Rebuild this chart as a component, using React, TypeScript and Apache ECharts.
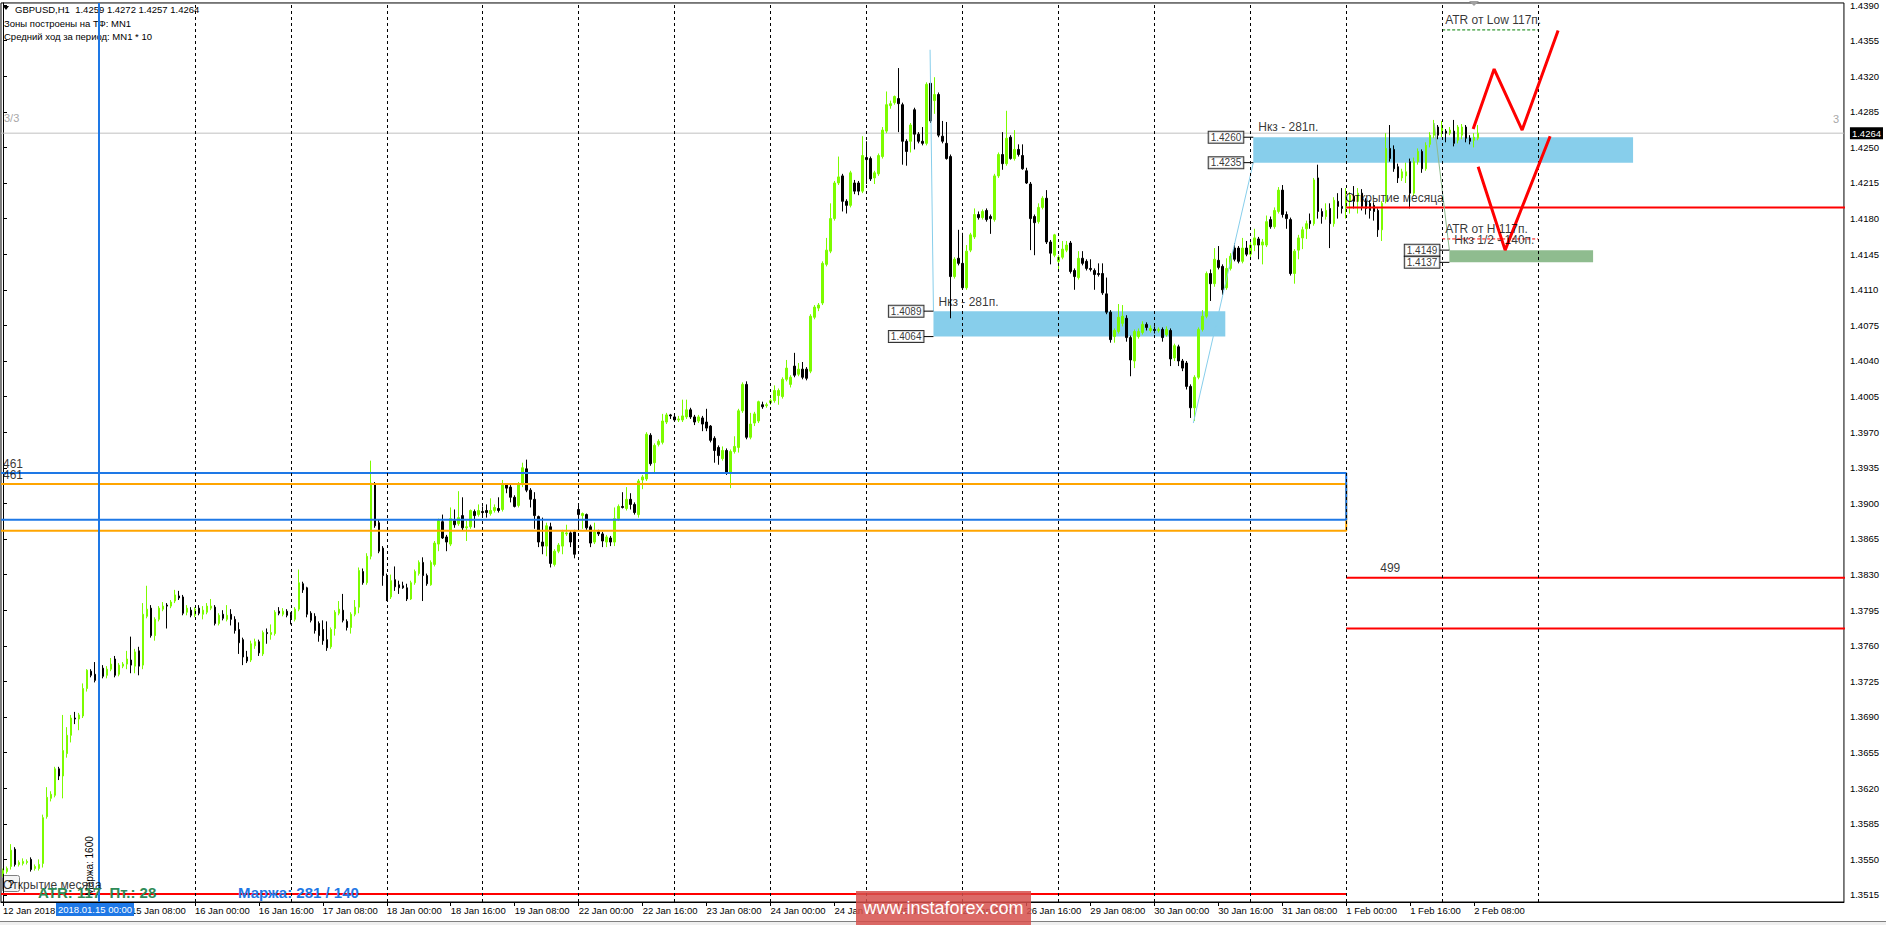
import { useEffect, useRef } from 'react';
import * as echarts from 'echarts';

// Hourly GBPUSD bars: [open, high, low, close]
const jan12 = [
  [1.3536,1.3541,1.3533,1.3539],[1.3538,1.3543,1.3536,1.3541],[1.3543,1.3565,1.3540,1.3559],[1.3560,1.3562,1.3543,1.3545],
  [1.3545,1.3549,1.3543,1.3547],[1.3546,1.3551,1.3544,1.3548],[1.3547,1.3550,1.3545,1.3548],[1.3550,1.3552,1.3538,1.3540],
  [1.3541,1.3545,1.3539,1.3543],[1.3541,1.3550,1.3539,1.3545],[1.3546,1.3594,1.3542,1.3591],[1.3592,1.3621,1.3590,1.3611],
  [1.3610,1.3617,1.3607,1.3614],[1.3613,1.3641,1.3611,1.3639],[1.3639,1.3641,1.3628,1.3632],[1.3632,1.3692,1.3610,1.3657],
  [1.3654,1.3680,1.3650,1.3672],[1.3672,1.3692,1.3665,1.3689],[1.3689,1.3695,1.3683,1.3688],[1.3688,1.3694,1.3677,1.3692],
  [1.3691,1.3723,1.3689,1.3718],[1.3718,1.3737,1.3715,1.3736],[1.3735,1.3737,1.3729,1.3731],[1.3732,1.3744,1.3724,1.3726],
];
const jan15 = [
  [1.3729,1.3741,1.3727,1.3739],[1.3738,1.3741,1.3728,1.3730],[1.3731,1.3740,1.3728,1.3737],[1.3737,1.3748,1.3735,1.3742],
  [1.3747,1.3750,1.3729,1.3731],[1.3732,1.3743,1.3730,1.3741],[1.3740,1.3744,1.3738,1.3742],[1.3742,1.3755,1.3737,1.3747],
  [1.3746,1.3769,1.3733,1.3741],[1.3740,1.3757,1.3733,1.3754],[1.3755,1.3759,1.3731,1.3740],[1.3741,1.3802,1.3737,1.3791],
  [1.3789,1.3819,1.3787,1.3796],[1.3797,1.3800,1.3768,1.3770],[1.3770,1.3788,1.3765,1.3786],[1.3786,1.3799,1.3784,1.3797],
  [1.3796,1.3803,1.3794,1.3799],[1.3800,1.3802,1.3777,1.3799],[1.3799,1.3805,1.3797,1.3803],[1.3804,1.3815,1.3802,1.3810],
  [1.3809,1.3814,1.3805,1.3807],[1.3808,1.3810,1.3790,1.3792],[1.3793,1.3800,1.3790,1.3797],[1.3795,1.3798,1.3788,1.3790],
];
const jan16 = [
  [1.3790,1.3798,1.3788,1.3796],[1.3797,1.3800,1.3790,1.3792],[1.3791,1.3799,1.3786,1.3795],[1.3793,1.3802,1.3791,1.3799],
  [1.3797,1.3806,1.3795,1.3799],[1.3798,1.3800,1.3780,1.3782],[1.3782,1.3792,1.3780,1.3790],[1.3791,1.3795,1.3785,1.3787],
  [1.3786,1.3800,1.3784,1.3790],[1.3791,1.3796,1.3780,1.3786],[1.3786,1.3789,1.3772,1.3775],[1.3776,1.3783,1.3752,1.3763],
  [1.3766,1.3768,1.3741,1.3749],[1.3749,1.3755,1.3743,1.3745],[1.3746,1.3765,1.3744,1.3762],[1.3760,1.3767,1.3757,1.3764],
  [1.3764,1.3766,1.3750,1.3753],[1.3752,1.3775,1.3750,1.3773],[1.3773,1.3777,1.3762,1.3772],[1.3771,1.3781,1.3766,1.3773],
  [1.3772,1.3795,1.3770,1.3793],[1.3794,1.3798,1.3790,1.3792],[1.3791,1.3797,1.3789,1.3794],[1.3794,1.3796,1.3788,1.3790],
];
const jan17 = [
  [1.3791,1.3793,1.3781,1.3787],[1.3786,1.3798,1.3784,1.3796],[1.3796,1.3835,1.3794,1.3822],[1.3821,1.3823,1.3812,1.3815],
  [1.3817,1.3818,1.3788,1.3791],[1.3792,1.3794,1.3783,1.3785],[1.3789,1.3792,1.3772,1.3775],[1.3782,1.3784,1.3764,1.3770],
  [1.3776,1.3785,1.3761,1.3765],[1.3766,1.3784,1.3755,1.3758],[1.3759,1.3778,1.3757,1.3776],[1.3777,1.3795,1.3770,1.3793],
  [1.3792,1.3804,1.3790,1.3796],[1.3795,1.3811,1.3783,1.3785],[1.3784,1.3786,1.3775,1.3778],[1.3778,1.3793,1.3772,1.3791],
  [1.3791,1.3805,1.3789,1.3798],[1.3798,1.3837,1.3792,1.3834],[1.3833,1.3836,1.3820,1.3822],[1.3822,1.3851,1.3820,1.3848],
  [1.3848,1.3942,1.3845,1.3920],[1.3919,1.3921,1.3876,1.3878],[1.3881,1.3884,1.3851,1.3853],[1.3856,1.3858,1.3819,1.3829],
];
const jan18 = [
  [1.3829,1.3831,1.3804,1.3806],[1.3808,1.3830,1.3806,1.3824],[1.3825,1.3838,1.3814,1.3818],[1.3820,1.3824,1.3811,1.3817],
  [1.3819,1.3823,1.3816,1.3817],[1.3817,1.3821,1.3804,1.3806],[1.3806,1.3824,1.3805,1.3822],[1.3822,1.3835,1.3820,1.3833],
  [1.3831,1.3844,1.3829,1.3842],[1.3842,1.3847,1.3804,1.3829],[1.3829,1.3831,1.3819,1.3821],[1.3820,1.3844,1.3819,1.3842],
  [1.3840,1.3863,1.3838,1.3861],[1.3860,1.3885,1.3853,1.3883],[1.3882,1.3889,1.3865,1.3866],[1.3867,1.3869,1.3853,1.3862],
  [1.3860,1.3896,1.3858,1.3885],[1.3883,1.3894,1.3876,1.3879],[1.3880,1.3912,1.3878,1.3886],[1.3888,1.3906,1.3873,1.3876],
  [1.3876,1.3883,1.3863,1.3877],[1.3877,1.3894,1.3875,1.3893],[1.3892,1.3894,1.3876,1.3888],[1.3889,1.3899,1.3887,1.3893],
];
const jan19 = [
  [1.3892,1.3897,1.3886,1.3891],[1.3893,1.3899,1.3886,1.3891],[1.3890,1.3905,1.3888,1.3893],[1.3893,1.3899,1.3891,1.3896],
  [1.3895,1.3906,1.3891,1.3893],[1.3894,1.3923,1.3892,1.3919],[1.3918,1.3920,1.3910,1.3915],[1.3916,1.3918,1.3901,1.3906],
  [1.3906,1.3908,1.3896,1.3897],[1.3898,1.3921,1.3896,1.3919],[1.3919,1.3940,1.3916,1.3935],[1.3934,1.3943,1.3911,1.3913],
  [1.3913,1.3915,1.3896,1.3904],[1.3904,1.3911,1.3875,1.3888],[1.3887,1.3888,1.3857,1.3862],[1.3862,1.3886,1.3850,1.3858],
  [1.3858,1.3881,1.3848,1.3878],[1.3877,1.3881,1.3837,1.3841],[1.3840,1.3855,1.3838,1.3853],[1.3853,1.3861,1.3851,1.3859],
  [1.3858,1.3874,1.3850,1.3872],[1.3870,1.3879,1.3868,1.3871],[1.3871,1.3873,1.3857,1.3862],[1.3872,1.3874,1.3846,1.3850],
];
const jan22 = [
  [1.3894,1.3898,1.3876,1.3889],[1.3888,1.3891,1.3875,1.3890],[1.3889,1.3890,1.3874,1.3876],[1.3877,1.3879,1.3857,1.3861],
  [1.3862,1.3881,1.3860,1.3872],[1.3872,1.3874,1.3868,1.3870],[1.3870,1.3872,1.3857,1.3863],[1.3862,1.3869,1.3857,1.3867],
  [1.3866,1.3868,1.3858,1.3862],[1.3862,1.3896,1.3858,1.3885],[1.3885,1.3899,1.3883,1.3897],[1.3897,1.3911,1.3895,1.3896],
  [1.3895,1.3916,1.3893,1.3904],[1.3904,1.3910,1.3894,1.3899],[1.3899,1.3901,1.3889,1.3891],[1.3889,1.3924,1.3886,1.3922],
  [1.3923,1.3928,1.3914,1.3926],[1.3924,1.3970,1.3922,1.3968],[1.3967,1.3969,1.3937,1.3939],[1.3940,1.3959,1.3929,1.3957],
  [1.3958,1.3963,1.3956,1.3961],[1.3960,1.3988,1.3958,1.3981],[1.3980,1.3989,1.3978,1.3987],[1.3987,1.3988,1.3983,1.3986],
];
const jan23 = [
  [1.3985,1.3987,1.3980,1.3982],[1.3982,1.3986,1.3980,1.3983],[1.3982,1.4002,1.3980,1.3986],[1.3985,1.4002,1.3983,1.3992],
  [1.3992,1.3994,1.3983,1.3985],[1.3985,1.3987,1.3977,1.3980],[1.3981,1.3987,1.3979,1.3985],[1.3984,1.3986,1.3971,1.3978],
  [1.3980,1.3993,1.3971,1.3974],[1.3976,1.3977,1.3960,1.3962],[1.3964,1.3966,1.3940,1.3952],[1.3955,1.3957,1.3938,1.3947],
  [1.3944,1.3956,1.3942,1.3952],[1.3952,1.3954,1.3928,1.3930],[1.3930,1.3953,1.3915,1.3951],[1.3951,1.3966,1.3949,1.3956],
  [1.3955,1.3993,1.3950,1.3991],[1.3991,1.4019,1.3989,1.4017],[1.4017,1.4020,1.3963,1.3965],[1.3965,1.3989,1.3963,1.3978],
  [1.3979,1.3990,1.3976,1.3988],[1.3981,1.4001,1.3979,1.4000],[1.3997,1.4000,1.3993,1.3995],[1.3996,1.3999,1.3994,1.3997],
];
const jan24 = [
  [1.3999,1.4003,1.3997,1.4001],[1.4001,1.4016,1.3999,1.4011],[1.4006,1.4013,1.3997,1.4011],[1.4005,1.4024,1.4003,1.4022],
  [1.4022,1.4041,1.4020,1.4033],[1.4017,1.4026,1.4014,1.4024],[1.4035,1.4048,1.4024,1.4026],[1.4027,1.4038,1.4025,1.4032],
  [1.4032,1.4039,1.4022,1.4024],[1.4032,1.4034,1.4021,1.4023],[1.4030,1.4086,1.4028,1.4084],[1.4083,1.4095,1.4081,1.4093],
  [1.4092,1.4097,1.4089,1.4095],[1.4097,1.4138,1.4095,1.4136],[1.4135,1.4161,1.4133,1.4149],[1.4148,1.4195,1.4146,1.4180],
  [1.4180,1.4217,1.4178,1.4215],[1.4215,1.4241,1.4213,1.4221],[1.4222,1.4224,1.4187,1.4197],[1.4197,1.4199,1.4185,1.4193],
  [1.4193,1.4227,1.4191,1.4225],[1.4215,1.4218,1.4204,1.4207],[1.4215,1.4217,1.4203,1.4207],[1.4207,1.4261,1.4205,1.4242],
];
const jan25 = [
  [1.4240,1.4256,1.4214,1.4238],[1.4239,1.4241,1.4217,1.4219],[1.4220,1.4227,1.4214,1.4225],[1.4224,1.4244,1.4222,1.4242],
  [1.4241,1.4270,1.4239,1.4267],[1.4266,1.4305,1.4264,1.4292],[1.4291,1.4296,1.4288,1.4293],[1.4294,1.4301,1.4292,1.4300],
  [1.4298,1.4328,1.4265,1.4293],[1.4292,1.4294,1.4233,1.4256],[1.4256,1.4258,1.4232,1.4246],[1.4256,1.4274,1.4245,1.4272],
  [1.4287,1.4289,1.4248,1.4263],[1.4263,1.4265,1.4254,1.4256],[1.4256,1.4270,1.4252,1.4254],[1.4254,1.4314,1.4252,1.4312],
  [1.4313,1.4315,1.4274,1.4276],[1.4296,1.4319,1.4283,1.4302],[1.4302,1.4304,1.4260,1.4262],[1.4261,1.4276,1.4254,1.4256],
  [1.4254,1.4275,1.4238,1.4239],[1.4241,1.4243,1.4082,1.4123],[1.4123,1.4142,1.4121,1.4140],[1.4141,1.4169,1.4134,1.4136],
];
const jan26 = [
  [1.4136,1.4166,1.4110,1.4112],[1.4112,1.4154,1.4110,1.4148],[1.4149,1.4166,1.4147,1.4164],[1.4162,1.4190,1.4160,1.4184],
  [1.4184,1.4187,1.4179,1.4181],[1.4181,1.4189,1.4179,1.4187],[1.4188,1.4190,1.4177,1.4179],[1.4182,1.4184,1.4165,1.4180],
  [1.4179,1.4224,1.4177,1.4222],[1.4222,1.4245,1.4220,1.4243],[1.4243,1.4265,1.4228,1.4234],[1.4234,1.4286,1.4232,1.4259],
  [1.4260,1.4262,1.4238,1.4239],[1.4239,1.4267,1.4237,1.4248],[1.4248,1.4253,1.4241,1.4243],[1.4242,1.4253,1.4228,1.4229],
  [1.4227,1.4230,1.4214,1.4215],[1.4214,1.4216,1.4149,1.4180],[1.4182,1.4184,1.4144,1.4176],[1.4177,1.4195,1.4175,1.4191],
  [1.4191,1.4202,1.4189,1.4200],[1.4200,1.4208,1.4155,1.4157],[1.4157,1.4159,1.4135,1.4146],[1.4144,1.4165,1.4142,1.4164],
];
const jan29 = [
  [1.4138,1.4144,1.4130,1.4142],[1.4142,1.4158,1.4140,1.4150],[1.4149,1.4158,1.4147,1.4154],[1.4156,1.4158,1.4126,1.4128],
  [1.4129,1.4131,1.4110,1.4123],[1.4122,1.4148,1.4120,1.4141],[1.4141,1.4148,1.4134,1.4136],[1.4138,1.4140,1.4129,1.4131],
  [1.4131,1.4140,1.4128,1.4130],[1.4129,1.4131,1.4110,1.4125],[1.4126,1.4136,1.4123,1.4125],[1.4126,1.4136,1.4105,1.4107],
  [1.4106,1.4122,1.4086,1.4088],[1.4088,1.4090,1.4058,1.4061],[1.4064,1.4072,1.4058,1.4070],[1.4069,1.4096,1.4067,1.4083],
  [1.4077,1.4095,1.4074,1.4084],[1.4082,1.4085,1.4059,1.4063],[1.4063,1.4065,1.4025,1.4041],[1.4040,1.4071,1.4033,1.4069],
  [1.4064,1.4072,1.4062,1.4069],[1.4068,1.4079,1.4066,1.4076],[1.4076,1.4078,1.4070,1.4073],[1.4070,1.4075,1.4068,1.4072],
];
const jan30 = [
  [1.4071,1.4074,1.4067,1.4070],[1.4070,1.4073,1.4068,1.4071],[1.4071,1.4073,1.4059,1.4063],[1.4066,1.4074,1.4064,1.4071],
  [1.4070,1.4072,1.4035,1.4042],[1.4043,1.4057,1.4040,1.4055],[1.4054,1.4056,1.4035,1.4040],[1.4040,1.4042,1.4030,1.4033],
  [1.4038,1.4040,1.4012,1.4015],[1.4015,1.4017,1.3984,1.3994],[1.3994,1.4026,1.3981,1.4024],[1.4024,1.4073,1.4022,1.4071],
  [1.4071,1.4090,1.4069,1.4084],[1.4084,1.4128,1.4082,1.4126],[1.4126,1.4130,1.4099,1.4116],[1.4116,1.4151,1.4113,1.4140],
  [1.4139,1.4153,1.4130,1.4132],[1.4133,1.4135,1.4105,1.4110],[1.4112,1.4141,1.4110,1.4131],[1.4131,1.4146,1.4129,1.4143],
  [1.4151,1.4156,1.4138,1.4140],[1.4151,1.4153,1.4136,1.4138],[1.4138,1.4161,1.4136,1.4151],[1.4151,1.4158,1.4143,1.4145],
];
const jan31 = [
  [1.4145,1.4158,1.4140,1.4154],[1.4154,1.4170,1.4148,1.4161],[1.4160,1.4162,1.4140,1.4154],[1.4154,1.4160,1.4135,1.4157],
  [1.4154,1.4183,1.4152,1.4177],[1.4179,1.4182,1.4170,1.4172],[1.4172,1.4191,1.4170,1.4188],[1.4187,1.4211,1.4185,1.4208],
  [1.4208,1.4213,1.4181,1.4184],[1.4184,1.4187,1.4170,1.4180],[1.4179,1.4181,1.4124,1.4126],[1.4126,1.4150,1.4116,1.4148],
  [1.4149,1.4164,1.4140,1.4161],[1.4161,1.4172,1.4150,1.4169],[1.4170,1.4178,1.4160,1.4175],[1.4178,1.4185,1.4170,1.4175],
  [1.4175,1.4220,1.4173,1.4218],[1.4220,1.4233,1.4180,1.4187],[1.4187,1.4190,1.4175,1.4182],[1.4182,1.4195,1.4179,1.4188],
  [1.4190,1.4195,1.4151,1.4175],[1.4175,1.4201,1.4172,1.4198],[1.4197,1.4205,1.4180,1.4192],[1.4192,1.4210,1.4185,1.4190],
];
const feb01 = [
  [1.4191,1.4210,1.4180,1.4198],[1.4197,1.4206,1.4185,1.4203],[1.4202,1.4212,1.4190,1.4197],[1.4197,1.4210,1.4185,1.4205],
  [1.4205,1.4209,1.4188,1.4192],[1.4197,1.4200,1.4184,1.4190],[1.4195,1.4198,1.4180,1.4188],[1.4193,1.4196,1.4178,1.4187],
  [1.4188,1.4190,1.4162,1.4169],[1.4169,1.4197,1.4158,1.4195],[1.4197,1.4264,1.4195,1.4249],[1.4249,1.4272,1.4236,1.4239],
  [1.4248,1.4252,1.4226,1.4229],[1.4231,1.4234,1.4215,1.4220],[1.4220,1.4229,1.4217,1.4226],[1.4222,1.4235,1.4215,1.4226],
  [1.4236,1.4239,1.4190,1.4205],[1.4205,1.4240,1.4202,1.4236],[1.4236,1.4249,1.4233,1.4246],[1.4246,1.4248,1.4225,1.4229],
  [1.4229,1.4255,1.4227,1.4252],[1.4253,1.4265,1.4250,1.4262],[1.4262,1.4277,1.4259,1.4270],[1.4270,1.4272,1.4258,1.4262],
];
const feb02 = [
  [1.4264,1.4276,1.4260,1.4270],[1.4266,1.4268,1.4255,1.4264],[1.4264,1.4270,1.4262,1.4267],[1.4266,1.4277,1.4251,1.4254],
  [1.4257,1.4272,1.4254,1.4270],[1.4262,1.4273,1.4258,1.4270],[1.4270,1.4272,1.4255,1.4259],[1.4259,1.4262,1.4253,1.4256],
  [1.4257,1.4264,1.4250,1.4260],[1.4259,1.4272,1.4257,1.4264],
];

const days = [jan12, jan15, jan16, jan17, jan18, jan19, jan22, jan23, jan24, jan25, jan26, jan29, jan30, jan31, feb01, feb02];

// time axis: one label every 16 hourly bars
const xLabels = [
  '12 Jan 2018', '12 Jan 16:00', '15 Jan 08:00', '16 Jan 00:00', '16 Jan 16:00', '17 Jan 08:00',
  '18 Jan 00:00', '18 Jan 16:00', '19 Jan 08:00', '22 Jan 00:00', '22 Jan 16:00', '23 Jan 08:00',
  '24 Jan 00:00', '24 Jan 16:00', '25 Jan 08:00', '26 Jan 00:00', '26 Jan 16:00', '29 Jan 08:00',
  '30 Jan 00:00', '30 Jan 16:00', '31 Jan 08:00', '1 Feb 00:00', '1 Feb 16:00', '2 Feb 08:00',
];
const dayStartBars = [24, 48, 72, 96, 120, 144, 168, 192, 216, 240, 264, 288, 312, 336, 360, 384];

// price axis
const yTicks = [
  1.3515, 1.3550, 1.3585, 1.3620, 1.3655, 1.3690, 1.3725, 1.3760, 1.3795, 1.3830, 1.3865, 1.3900, 1.3935,
  1.3970, 1.4005, 1.4040, 1.4075, 1.4110, 1.4145, 1.4180, 1.4215, 1.4250, 1.4285, 1.4320, 1.4355, 1.4390,
];
const priceRange = [1.35081, 1.4392];
const lastPrice = 1.4264;
const totalSlots = 461;

// drawn objects (bar index, price)
const zoneLow = { x1: 232.75, x2: 305.75, top: 1.4089, bottom: 1.4064 };
const zoneHigh = { x1: 312.75, x2: 407.75, top: 1.4260, bottom: 1.4235 };
const zoneHalf = { x1: 361.8, x2: 397.75, top: 1.4149, bottom: 1.4137 };
const frameBlue = { x1: -0.5, x2: 336, top: 1.3930, bottom: 1.3884 };
const frameOrange = { x1: -0.5, x2: 336, top: 1.3919, bottom: 1.3873 };
const frameRed = { x1: 336, x2: 470, top: 1.3827, bottom: 1.3777 };
const monthOpenJan = { x1: -0.5, x2: 336, price: 1.3516 };
const monthOpenFeb = { x1: 336, x2: 470, price: 1.4191 };
const atrLow = { x1: 360, x2: 384, price: 1.43655 };
const atrHigh = { x1: 360, x2: 384, price: 1.4160 };
const vlineBar = 24;
const thinBlue1 = [[231.9, 1.4346], [232.75, 1.4089]];
const thinBlue2 = [[297.75, 1.3979], [312.75, 1.4235]];
const thinGreen = [[358, 1.4274], [361.8, 1.4149]];
const zigzagUp = [[367.75, 1.4268], [373, 1.4327], [380, 1.4267], [389, 1.4365]];
const zigzagDown = [[369, 1.4231], [375.75, 1.4149], [387, 1.4261]];

const FONT = "'Liberation Sans', Arial, sans-serif";
const BLUE = '#1E78E6';

function frame(f: { x1: number; x2: number; top: number; bottom: number }) {
  return [[f.x1, f.top], [f.x2, f.top], [f.x2, f.bottom], [f.x1, f.bottom]];
}

function lineSeries(data: number[][], color: string, width: number, z: number, type: any = 'solid') {
  return {
    type: 'line', xAxisIndex: 1, yAxisIndex: 0, data, symbol: 'none', showSymbol: false,
    lineStyle: { color, width, type }, silent: true, z, clip: true, animation: false,
  };
}

function buildOption() {
  const bars = days.flat();
  const candleData = bars.map(([o, h, l, c]) => [o, c, l, h]);
  const categories = Array.from({ length: totalSlots }, (_, i) => String(i));
  const showTick = (i: number) => i % 16 === 0 && i / 16 < xLabels.length;
  const last = bars[bars.length - 1];

  const textItems = [
    { value: [zoneLow.x1, zoneLow.top], text: 'Нкз - 281п.', offset: [5, -9] },
    { value: [zoneHigh.x1, zoneHigh.top], text: 'Нкз - 281п.', offset: [5, -10] },
    { value: [monthOpenFeb.x1, monthOpenFeb.price], text: 'Открытие месяца', offset: [-1, -9] },
    { value: [monthOpenJan.x1, monthOpenJan.price], text: 'Открытие месяца', offset: [2, -9] },
    { value: [atrLow.x1, atrLow.price], text: 'ATR от Low 117п.', offset: [3, -10] },
    { value: [atrHigh.x1, atrHigh.price], text: 'ATR от H 117п.', offset: [3, -10] },
    { value: [zoneHalf.x1, zoneHalf.top], text: 'Нкз 1/2 - 140п.', offset: [5, -10] },
    { value: [frameBlue.x1, frameBlue.top], text: '461', offset: [2, -9] },
    { value: [frameOrange.x1, frameOrange.top], text: '461', offset: [2, -9] },
    { value: [frameRed.x1, frameRed.top], text: '499', offset: [34, -10] },
  ];

  const priceBoxes = [
    [zoneLow.x1, zoneLow.top], [zoneLow.x1, zoneLow.bottom],
    [zoneHigh.x1, zoneHigh.top], [zoneHigh.x1, zoneHigh.bottom],
    [zoneHalf.x1, zoneHalf.top], [zoneHalf.x1, zoneHalf.bottom],
  ];

  const series: any[] = [
    {
      type: 'line', xAxisIndex: 1, yAxisIndex: 0, data: [], z: 1, silent: true,
      markArea: {
        silent: true,
        data: [
          [{ coord: [zoneLow.x1, zoneLow.top], itemStyle: { color: '#87CEEB' } }, { coord: [zoneLow.x2, zoneLow.bottom] }],
          [{ coord: [zoneHigh.x1, zoneHigh.top], itemStyle: { color: '#87CEEB' } }, { coord: [zoneHigh.x2, zoneHigh.bottom] }],
          [{ coord: [zoneHalf.x1, zoneHalf.top], itemStyle: { color: '#8FBC8F' } }, { coord: [zoneHalf.x2, zoneHalf.bottom] }],
        ],
      },
    },
    {
      type: 'line', xAxisIndex: 1, yAxisIndex: 0, data: [], z: 2, silent: true,
      markLine: {
        silent: true, symbol: ['none', 'none'], label: { show: false },
        data: dayStartBars.map((b) => ({ xAxis: b, lineStyle: { color: '#000', width: 1, type: [3, 3] } })),
      },
    },
    lineSeries([[-0.5, lastPrice], [totalSlots - 0.5, lastPrice]], '#C0C0C0', 1, 2),
    {
      type: 'candlestick', xAxisIndex: 0, yAxisIndex: 0, data: candleData, barWidth: 2, z: 3, silent: true,
      itemStyle: {
        color: '#7CFC00', color0: '#000000', borderColor: '#7CFC00', borderColor0: '#000000',
        borderColorDoji: '#000000', borderWidth: 1,
      },
    },
    lineSeries(frame(frameOrange), '#FFA500', 2, 4),
    lineSeries(frame(frameBlue), BLUE, 2, 4),
    lineSeries(frame(frameRed), '#FF0000', 2, 4),
    lineSeries([[monthOpenJan.x1, monthOpenJan.price], [monthOpenJan.x2, monthOpenJan.price]], '#FF0000', 2, 4),
    lineSeries([[monthOpenFeb.x1, monthOpenFeb.price], [monthOpenFeb.x2, monthOpenFeb.price]], '#FF0000', 2, 4),
    lineSeries([[atrLow.x1, atrLow.price], [atrLow.x2, atrLow.price]], '#008000', 1, 4, [3, 2]),
    lineSeries([[atrHigh.x1, atrHigh.price], [atrHigh.x2, atrHigh.price]], '#FF0000', 1, 4, [3, 2]),
    lineSeries(thinBlue1, '#87CEEB', 1, 4),
    lineSeries(thinBlue2, '#87CEEB', 1, 4),
    lineSeries(thinGreen, '#8FBC8F', 1, 4),
    {
      type: 'line', xAxisIndex: 1, yAxisIndex: 0, data: [], z: 5, silent: true,
      markLine: {
        silent: true, symbol: ['none', 'none'], label: { show: false },
        data: [{ xAxis: vlineBar, lineStyle: { color: BLUE, width: 2, type: 'solid' } }],
      },
    },
    lineSeries(zigzagUp, '#FF0000', 3, 6),
    lineSeries(zigzagDown, '#FF0000', 3, 6),
    ...priceBoxes.map((p) => lineSeries([[p[0] - 2.5, p[1]], p], '#000', 1, 6)),
    {
      type: 'scatter', xAxisIndex: 1, yAxisIndex: 0, symbolSize: 0, z: 7, silent: true, clip: false,
      data: textItems.map((t) => ({
        value: t.value,
        label: {
          show: true, position: 'right', distance: 0, offset: t.offset, formatter: t.text,
          color: '#000', fontSize: 12, fontFamily: FONT,
        },
      })),
    },
    {
      type: 'scatter', xAxisIndex: 1, yAxisIndex: 0, symbolSize: 0, z: 7, silent: true, clip: false,
      data: priceBoxes.map((p) => ({
        value: p,
        label: {
          show: true, position: 'left', distance: 10, formatter: p[1].toFixed(4),
          color: '#000', fontSize: 10, fontFamily: FONT, lineHeight: 10,
          backgroundColor: '#fff', borderColor: '#000', borderWidth: 1, padding: [1, 2, 0, 2],
        },
      })),
    },
  ];

  const graphic: any[] = [
    { type: 'polygon', z: 0, shape: { points: [[3, 6], [9, 6], [6, 10]] }, style: { fill: '#000' } },
    {
      type: 'text', z: 0, x: 15, y: 9,
      style: {
        text: `GBPUSD,H1  ${last[0].toFixed(4)} ${last[1].toFixed(4)} ${last[2].toFixed(4)} ${last[3].toFixed(4)}`,
        fill: '#000', fontSize: 9.5, fontFamily: FONT, verticalAlign: 'middle',
      },
    },
    { type: 'text', z: 0, x: 4, y: 23, style: { text: 'Зоны построены на ТФ: MN1', fill: '#000', fontSize: 9.5, fontFamily: FONT, verticalAlign: 'middle' } },
    { type: 'text', z: 0, x: 4, y: 36, style: { text: 'Средний ход за период: MN1 * 10', fill: '#000', fontSize: 9.5, fontFamily: FONT, verticalAlign: 'middle' } },
    { type: 'text', z: 0, x: 4, y: 118, style: { text: '3/3', fill: '#A8A8A8', fontSize: 11, fontFamily: FONT, verticalAlign: 'middle' } },
    { type: 'text', z: 0, x: 1833, y: 119, style: { text: '3', fill: '#A8A8A8', fontSize: 11, fontFamily: FONT, verticalAlign: 'middle' } },
    { type: 'polygon', z: 10, shape: { points: [[1469, 1], [1479, 1], [1474, 6]] }, style: { fill: '#A0A0A0' } },
    {
      type: 'text', z: 10, x: 89, y: 866, rotation: Math.PI / 2,
      style: { text: 'Маржа: 1600', fill: '#000', fontSize: 10, fontFamily: FONT, align: 'center', verticalAlign: 'middle' },
    },
    { type: 'rect', z: 0, shape: { x: 2.5, y: 875.5, width: 17, height: 16, r: 2 }, style: { fill: '#F4F4F4', stroke: '#808080', lineWidth: 1 } },
    { type: 'text', z: 0, x: 11, y: 884, style: { text: '?', fill: '#000', fontSize: 11, fontFamily: FONT, align: 'center', verticalAlign: 'middle' } },
    { type: 'text', z: 10, x: 38, y: 892, style: { text: 'ATR: 117  Пт.: 28', fill: '#2E8B57', fontSize: 15, fontWeight: 'bold', fontFamily: FONT, verticalAlign: 'middle' } },
    { type: 'text', z: 10, x: 238, y: 892, style: { text: 'Маржа: 281 / 140', fill: BLUE, fontSize: 15, fontWeight: 'bold', fontFamily: FONT, verticalAlign: 'middle' } },
    { type: 'rect', z: 10, shape: { x: 56, y: 903, width: 78, height: 13 }, style: { fill: BLUE } },
    { type: 'text', z: 11, x: 95, y: 909.5, style: { text: '2018.01.15 00:00', fill: '#fff', fontSize: 9.5, fontFamily: FONT, align: 'center', verticalAlign: 'middle' } },
    { type: 'rect', z: 10, shape: { x: 0, y: 921, width: 1886, height: 4 }, style: { fill: '#F0F0F0' } },
    { type: 'line', z: 10, shape: { x1: 0, y1: 921.5, x2: 1886, y2: 921.5 }, style: { stroke: '#808080', lineWidth: 1 } },
    { type: 'rect', z: 20, shape: { x: 856, y: 891, width: 175, height: 34 }, style: { fill: 'rgba(214,80,76,0.85)' } },
    { type: 'text', z: 21, x: 943.5, y: 908, style: { text: 'www.instaforex.com', fill: '#fff', fontSize: 18, fontFamily: FONT, align: 'center', verticalAlign: 'middle' } },
  ];

  return {
    animation: false,
    backgroundColor: '#fff',
    grid: { left: -2, top: 1, width: 1846, height: 901, show: true, borderColor: '#000', borderWidth: 1, backgroundColor: 'transparent' },
    xAxis: [
      {
        type: 'category', data: categories, boundaryGap: true, gridIndex: 0,
        axisLine: { show: true, onZero: false, lineStyle: { color: '#000', width: 1 } },
        axisTick: { show: true, alignWithLabel: true, interval: showTick, length: 4, lineStyle: { color: '#000' } },
        axisLabel: {
          show: true, interval: showTick, align: 'left', margin: 3, fontSize: 9.5, fontFamily: FONT, color: '#000',
          formatter: (_v: string, i: number) => xLabels[i / 16] ?? '',
        },
        splitLine: { show: false },
      },
      { type: 'value', min: -0.5, max: totalSlots - 0.5, show: false, gridIndex: 0 },
    ],
    yAxis: [
      {
        type: 'value', position: 'right', min: priceRange[0], max: priceRange[1], scale: true,
        axisLine: { show: true, lineStyle: { color: '#000' } },
        axisTick: { show: true, customValues: yTicks, length: 4, lineStyle: { color: '#000' } },
        axisLabel: {
          show: true, customValues: [...yTicks, lastPrice], margin: 6, fontSize: 9.5, fontFamily: FONT, color: '#000',
          formatter: (v: number) => (Math.abs(v - lastPrice) < 1e-7 ? `{cur|${v.toFixed(4)}}` : v.toFixed(4)),
          rich: { cur: { backgroundColor: '#000', color: '#fff', padding: [1, 2, 1, 2], fontSize: 9.5, fontFamily: FONT } },
        },
        splitLine: { show: false },
      },
    ],
    series,
    graphic,
  };
}

export default function App() {
  const ref = useRef<HTMLDivElement>(null);
  useEffect(() => {
    document.body.style.margin = '0';
    const chart = echarts.init(ref.current!, null, { renderer: 'svg' });
    chart.setOption(buildOption() as any);
    return () => chart.dispose();
  }, []);
  return (
    <div
      ref={ref}
      style={{ position: 'fixed', left: 0, top: 0, width: 1886, height: 925, background: '#fff' }}
    />
  );
}
